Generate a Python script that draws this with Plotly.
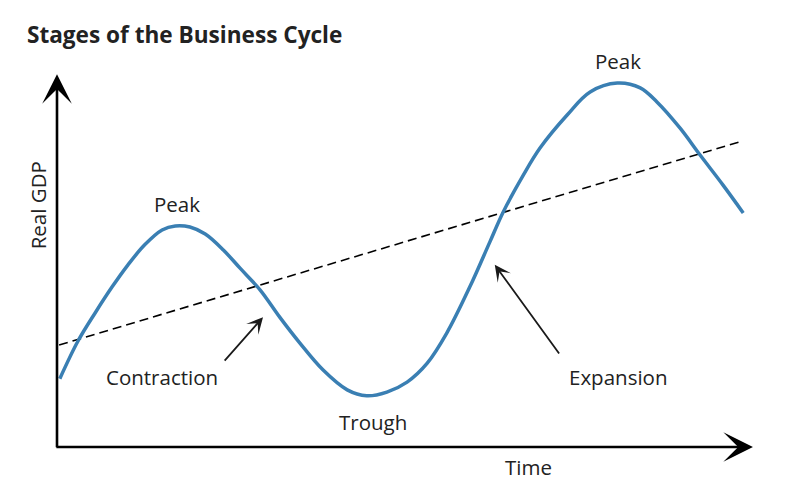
import plotly.graph_objects as go

# Business cycle curve (time units, real GDP units)
time = [0.04, 0.30, 0.55, 0.79, 1.02, 1.26, 1.51, 1.70, 1.91, 2.13, 2.39, 2.63,
        2.92, 3.20, 3.49, 3.82, 4.17, 4.45, 4.74, 5.03, 5.32, 5.60, 5.93, 6.22,
        6.41, 6.70, 6.94, 7.33, 7.66, 8.05, 8.38, 8.62, 8.95, 9.24, 9.57, 9.86]
gdp = [1.84, 2.85, 3.62, 4.31, 4.91, 5.45, 5.85, 5.96, 5.93, 5.74, 5.31, 4.82,
       4.23, 3.50, 2.80, 2.08, 1.54, 1.38, 1.48, 1.75, 2.26, 3.07, 4.31, 5.53,
       6.33, 7.33, 8.06, 8.95, 9.57, 9.81, 9.68, 9.30, 8.60, 7.87, 7.06, 6.31]

# Long-run trend line
trend_time = [0.03, 9.80]
trend_gdp = [2.75, 8.22]

# Labels (text, time, gdp)
labels = ["Peak", "Peak", "Contraction", "Trough", "Expansion"]
label_time = [1.72, 8.06, 1.51, 4.54, 8.06]
label_gdp = [6.55, 10.40, 1.89, 0.67, 1.89]

# Pointer arrows (tip and tail)
arrow_tip_time = [2.96, 6.29]
arrow_tip_gdp = [3.50, 4.91]
arrow_tail_time = [2.39, 7.23]
arrow_tail_gdp = [2.29, 2.48]

FONT = "Open Sans"
TXT = "#222222"
fig = go.Figure()

fig.add_trace(go.Scatter(x=trend_time, y=trend_gdp, mode="lines",
                         line=dict(color="black", width=1.6, dash="9px,5px"),
                         hoverinfo="skip"))
fig.add_trace(go.Scatter(x=time, y=gdp, mode="lines",
                         line=dict(color="#3a7fb3", width=3.5, shape="spline", smoothing=1.0),
                         hoverinfo="skip"))

ann = []
# axes with arrows
ann.append(dict(x=0, y=10.05, ax=0, ay=-0.05, xref="x", yref="y", axref="x", ayref="y",
                showarrow=True, arrowhead=3, arrowsize=1.9, arrowwidth=2.6,
                arrowcolor="black", text="", standoff=0))
ann.append(dict(x=10.0, y=0, ax=-0.03, ay=0, xref="x", yref="y", axref="x", ayref="y",
                showarrow=True, arrowhead=3, arrowsize=1.9, arrowwidth=2.6,
                arrowcolor="black", text="", standoff=0))

for tx, ty, sx, sy in zip(arrow_tip_time, arrow_tip_gdp, arrow_tail_time, arrow_tail_gdp):
    ann.append(dict(x=tx, y=ty, ax=sx, ay=sy, xref="x", yref="y", axref="x", ayref="y",
                    showarrow=True, arrowhead=3, arrowsize=1.5, arrowwidth=1.8,
                    arrowcolor="#1a1a1a", text="", standoff=0))

for t, x, y in zip(labels, label_time, label_gdp):
    ann.append(dict(x=x, y=y, xref="x", yref="y", text=t, showarrow=False,
                    font=dict(family=FONT, size=20.5, color=TXT),
                    xanchor="center", yanchor="middle"))

ann.append(dict(x=6.77, y=-0.54, xref="x", yref="y", text="Time", showarrow=False,
                font=dict(family=FONT, size=20.5, color=TXT),
                xanchor="center", yanchor="middle"))
ann.append(dict(x=-0.27, y=6.52, xref="x", yref="y", text="Real GDP", showarrow=False,
                textangle=-90, font=dict(family=FONT, size=20.5, color=TXT),
                xanchor="center", yanchor="middle"))

fig.update_layout(
    width=793, height=486,
    margin=dict(l=0, r=0, t=0, b=0),
    paper_bgcolor="white", plot_bgcolor="white",
    showlegend=False,
    title=dict(text="<b>Stages of the Business Cycle</b>", x=0.034, xanchor="left",
               y=0.928, yanchor="middle",
               font=dict(family=FONT, size=22.6, color=TXT)),
    xaxis=dict(range=[-0.819, 10.575], visible=False, fixedrange=True),
    yaxis=dict(range=[-1.051, 12.049], visible=False, fixedrange=True),
    annotations=ann,
)

fig.write_html("out.html", config={"displayModeBar": False},
               post_script="document.body.style.margin='0px';")
